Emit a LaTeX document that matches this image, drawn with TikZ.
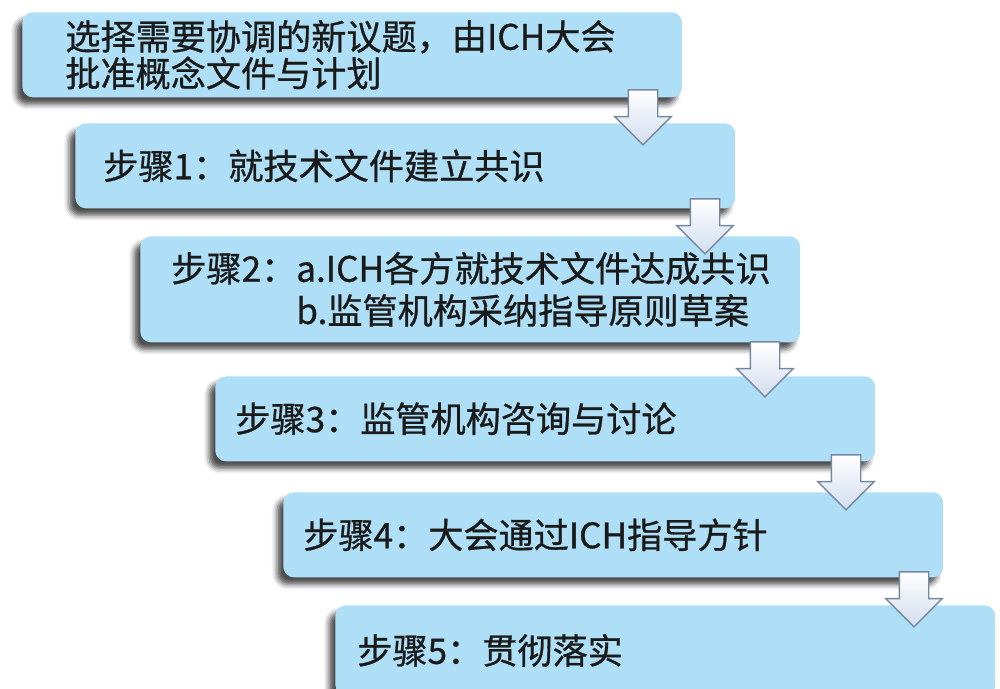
\documentclass[tikz,border=0pt]{standalone}
\usepackage{fontspec}
\setmainfont{Noto Sans CJK SC}[FakeBold=0.8]
\usetikzlibrary{positioning}
\usetikzlibrary{calc}
\usetikzlibrary{shapes.arrows}
\usetikzlibrary{shadows,shadows.blur}
\definecolor{boxblue}{RGB}{174,223,246}
\definecolor{arrowfill}{RGB}{210,221,238}
\definecolor{arrowline}{RGB}{120,136,160}
\definecolor{textdark}{RGB}{26,26,26}

\tikzset{
  stepbox/.style={fill=boxblue, rounded corners=6pt, anchor=north west,
    minimum width=13.2cm, minimum height=1.7cm, inner sep=0pt,
    blur shadow={shadow xshift=-3.5pt, shadow yshift=-4pt, shadow blur radius=3pt, shadow opacity=70}},
  steptext/.style={anchor=west, inner sep=0pt, text=textdark, align=left,
    font=\fontsize{20}{21}\selectfont},
  downarrow/.style={single arrow, shape border rotate=270, draw=arrowline, line width=0.8pt,
    top color=white, bottom color=arrowfill, inner sep=0.28cm,
    minimum height=1.1cm, single arrow head extend=0.27cm}
}

\begin{document}
\begin{tikzpicture}[x=0.02cm, y=-0.02cm]
    \useasboundingbox (0,0) rectangle (1000,689);

    % draw boxes
    \node[stepbox] (b0) at (22,12) {};
    \node[stepbox] (b1) at (75,123) {};
    \node[stepbox, minimum height=2.12cm] (b2) at (140,236) {};
    \node[stepbox] (b3) at (215,376) {};
    \node[stepbox] (b4) at (283,492) {};
    \node[stepbox, minimum height=1.8cm] (b5) at (335,605) {};

    % draw texts
    \node[steptext] (t0) at ($(b0.west)+(43,0)$) {选择需要协调的新议题，由ICH大会\\批准概念文件与计划};
    \node[steptext] (t1) at ($(b1.west)+(28,0)$) {步骤1：就技术文件建立共识};
    \node[steptext, font=\fontsize{20}{24}\selectfont] (t2) at ($(b2.west)+(31,0)$)
      {步骤2：a.ICH各方就技术文件达成共识\\\hphantom{步骤2：}b.监管机构采纳指导原则草案};
    \node[steptext] (t3) at ($(b3.west)+(20,0)$) {步骤3：监管机构咨询与讨论};
    \node[steptext] (t4) at ($(b4.west)+(20,0)$) {步骤4：大会通过ICH指导方针};
    \node[steptext] (t5) at ($(b5.west)+(22,0)$) {步骤5：贯彻落实};

    % draw arrows
    \node[downarrow] (a1) at (643,110) {};
    \node[downarrow] (a2) at (705,219) {};
    \node[downarrow] (a3) at (765,362) {};
    \node[downarrow] (a4) at (846,475) {};
    \node[downarrow] (a5) at (914,592) {};
\end{tikzpicture}
\end{document}
